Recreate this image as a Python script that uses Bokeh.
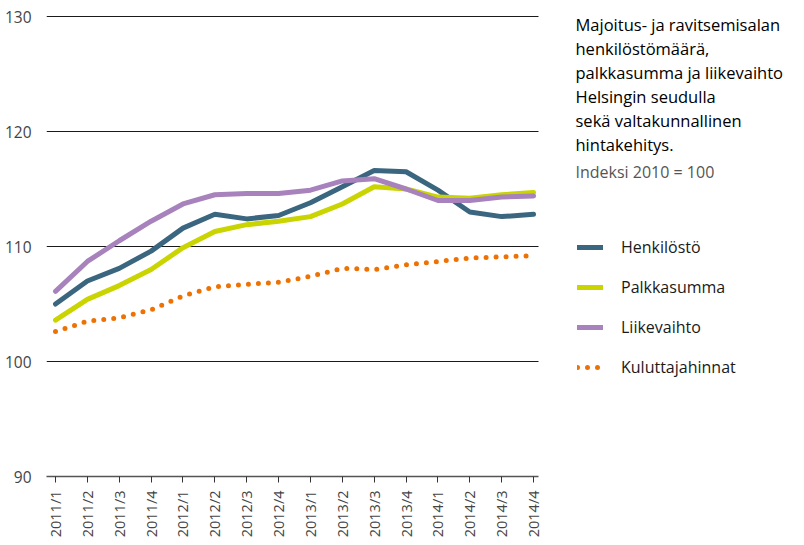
from bokeh.plotting import figure
from bokeh.models import Label, Legend, LegendItem, FixedTicker, Range1d
from bokeh.embed import file_html
from bokeh.resources import INLINE

quarters = ["2011/1", "2011/2", "2011/3", "2011/4",
            "2012/1", "2012/2", "2012/3", "2012/4",
            "2013/1", "2013/2", "2013/3", "2013/4",
            "2014/1", "2014/2", "2014/3", "2014/4"]
henkilosto = [105.0, 107.0, 108.1, 109.6, 111.6, 112.8, 112.4, 112.7,
              113.8, 115.2, 116.6, 116.5, 114.9, 113.0, 112.6, 112.8]
palkkasumma = [103.6, 105.4, 106.6, 108.0, 109.9, 111.3, 111.9, 112.2,
               112.6, 113.7, 115.2, 115.0, 114.3, 114.2, 114.5, 114.7]
liikevaihto = [106.1, 108.7, 110.5, 112.2, 113.7, 114.5, 114.6, 114.6,
               114.9, 115.7, 115.9, 115.0, 114.0, 114.0, 114.3, 114.4]
kuluttajahinnat = [102.6, 103.5, 103.8, 104.5, 105.7, 106.5, 106.7, 106.9,
                   107.4, 108.1, 108.0, 108.4, 108.7, 109.0, 109.1, 109.2]
series_names = ["Henkilöstö", "Palkkasumma", "Liikevaihto", "Kuluttajahinnat"]
title_lines = ["Majoitus- ja ravitsemisalan", "henkilöstömäärä,",
               "palkkasumma ja liikevaihto", "Helsingin seudulla",
               "sekä valtakunnallinen", "hintakehitys."]
subtitle = "Indeksi 2010 = 100"
y_ticks = [90, 100, 110, 120, 130]

x = list(range(len(quarters)))
FONT = "Open Sans"

# data area spans x in [X0, X1]; the frame continues to the right for the side texts
X0, X1 = -0.2824, 15.155
PX = 31.87  # pixels per quarter
FRAME_W = 754
p = figure(frame_width=FRAME_W, frame_height=461, min_border_left=46,
           min_border_right=0, min_border_top=15, min_border_bottom=64,
           output_backend="svg", toolbar_location=None,
           x_range=Range1d(X0, X0 + FRAME_W / PX),
           y_range=Range1d(90, 130 + 1 / 11.5))
p.outline_line_color = None
p.background_fill_color = "white"
p.border_fill_color = "white"
p.xgrid.visible = False
p.ygrid.ticker = FixedTicker(ticks=y_ticks[1:])
p.ygrid.cross_bounds = (X0, X1)
p.ygrid.grid_line_color = "#1a1a1a"
p.ygrid.grid_line_width = 1

p.yaxis.ticker = FixedTicker(ticks=y_ticks)
p.yaxis.axis_line_color = None
p.yaxis.major_tick_line_color = None
p.yaxis.minor_tick_line_color = None
p.yaxis.major_label_standoff = 9
p.yaxis.major_label_text_font = FONT
p.yaxis.major_label_text_font_size = "15.5px"
p.yaxis.major_label_text_color = "#444444"

p.xaxis.ticker = FixedTicker(ticks=x)
p.xaxis.bounds = (X0, X1)
p.xaxis.major_label_overrides = {i: q for i, q in enumerate(quarters)}
p.xaxis.major_label_orientation = 1.5708
p.xaxis.axis_line_color = "#555555"
p.xaxis.axis_line_width = 1.5
p.xaxis.major_tick_line_color = "#333333"
p.xaxis.major_tick_in = 0
p.xaxis.major_tick_out = 6
p.xaxis.minor_tick_line_color = None
p.xaxis.major_label_standoff = 8
p.xaxis.major_label_text_font = FONT
p.xaxis.major_label_text_font_size = "14.5px"
p.xaxis.major_label_text_color = "#444444"

r_k = p.line(x, kuluttajahinnat, line_color="#ee7203", line_width=5,
             line_dash="0 10", line_cap="round")
r_h = p.line(x, henkilosto, line_color="#3b6680", line_width=5, line_cap="round")
r_p = p.line(x, palkkasumma, line_color="#c9d400", line_width=5, line_cap="round")
r_l = p.line(x, liikevaihto, line_color="#a882bc", line_width=5, line_cap="round")

legend = Legend(items=[LegendItem(label=series_names[0], renderers=[r_h]),
                       LegendItem(label=series_names[1], renderers=[r_p]),
                       LegendItem(label=series_names[2], renderers=[r_l]),
                       LegendItem(label=series_names[3], renderers=[r_k])],
                location=(531, 98), orientation="vertical",
                glyph_width=26, glyph_height=20, label_height=20,
                spacing=18, padding=0, margin=0, label_standoff=18,
                label_text_font=FONT, label_text_font_size="16px",
                label_text_color="#1a1a1a", border_line_color=None,
                background_fill_alpha=0)
p.add_layout(legend)

for i, t in enumerate(title_lines):
    p.add_layout(Label(x=529, y=452 - 24 * i, x_units="screen", y_units="screen",
                       text=t, text_font=FONT, text_font_size="16.5px",
                       text_color="#000000", text_baseline="middle"))
p.add_layout(Label(x=529, y=452 - 24 * 6 - 3, x_units="screen", y_units="screen",
                   text=subtitle, text_font=FONT, text_font_size="16px",
                   text_color="#555555", text_baseline="middle"))

open("out.html", "w").write(file_html(p, INLINE))
